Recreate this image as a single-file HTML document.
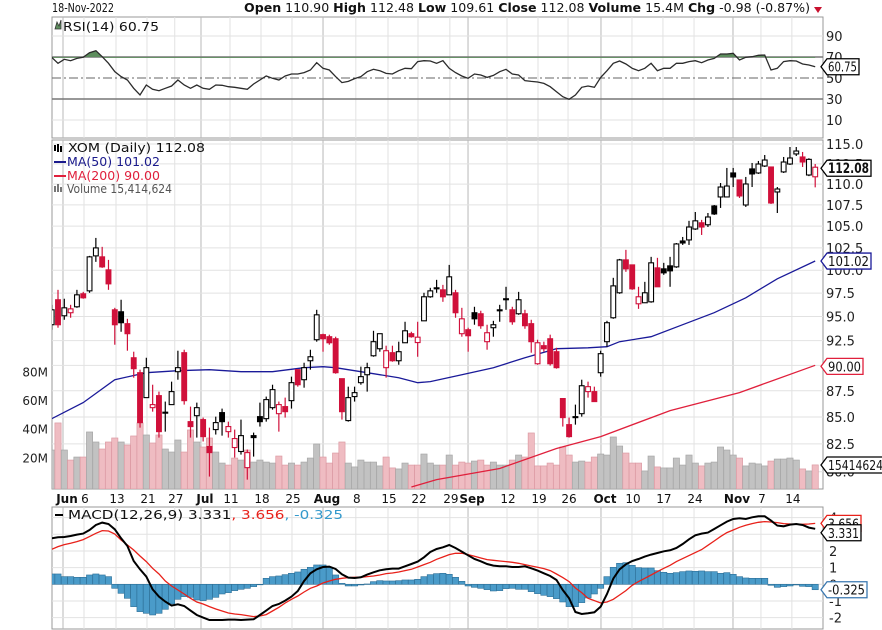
<!DOCTYPE html>
<html><head><meta charset="utf-8"><title>XOM Daily Chart</title>
<style>
html,body{margin:0;padding:0;background:#fff;}
svg{display:block;font-family:"DejaVu Sans","Liberation Sans",Arial,sans-serif;}
</style></head>
<body>
<svg id="chart" width="882" height="630" viewBox="0 0 882 630" xmlns="http://www.w3.org/2000/svg">
<defs>
<clipPath id="clipMain"><rect x="52" y="140" width="771" height="349"/></clipPath>
<clipPath id="clipRsi"><rect x="52" y="17" width="771" height="121"/></clipPath>
<clipPath id="clipRsiTop"><rect x="52" y="17" width="771" height="40.9"/></clipPath>
<clipPath id="clipMacd"><rect x="52" y="507" width="771" height="122"/></clipPath>
</defs>
<rect x="0" y="0" width="882" height="630" fill="#fff"/>
<text x="52" y="12" font-size="12" fill="#111" textLength="62" lengthAdjust="spacingAndGlyphs">18-Nov-2022</text>
<text x="244" y="12" font-size="12" fill="#111" textLength="566" lengthAdjust="spacingAndGlyphs"><tspan font-weight="bold">Open</tspan> 110.90 <tspan font-weight="bold">High</tspan> 112.48 <tspan font-weight="bold">Low</tspan> 109.61 <tspan font-weight="bold">Close</tspan> 112.08 <tspan font-weight="bold">Volume</tspan> 15.4M <tspan font-weight="bold">Chg</tspan> -0.98 (-0.87%)</text>
<polygon points="814,7 822,7 818,13" fill="#c8102e"/>
<rect x="52" y="17" width="771" height="121" fill="none" stroke="#999"/>
<rect x="52" y="140" width="771" height="349" fill="none" stroke="#999"/>
<rect x="52" y="507" width="771" height="122" fill="none" stroke="#999"/>
<g id="gridLayer"></g>
<g id="rsiLayer"></g>
<g id="mainLayer" clip-path="url(#clipMain)"></g>
<g id="macdLayer" clip-path="url(#clipMacd)"></g>
<g id="axisLayer"></g>
<g>
<path d="M55,29 L57,22 L59,26 L61,20 L61,29 Z" fill="#5d8d5d" stroke="#333" stroke-width="0.8"/>
<text x="63" y="31" font-size="12" fill="#111" textLength="96" lengthAdjust="spacingAndGlyphs">RSI(14) 60.75</text>
</g>
<g>
<g><rect x="54" y="145" width="2" height="6" fill="#000"/><rect x="57" y="144" width="2" height="8" fill="#000"/><rect x="60" y="146" width="2" height="6" fill="#000"/></g>
<text x="68" y="152" font-size="12" fill="#111" textLength="137" lengthAdjust="spacingAndGlyphs">XOM (Daily) 112.08</text>
<line x1="54" y1="162" x2="66" y2="162" stroke="#1a1a8c" stroke-width="2"/>
<text x="67" y="166" font-size="12" fill="#1a1a8c" textLength="93" lengthAdjust="spacingAndGlyphs">MA(50) 101.02</text>
<line x1="54" y1="176" x2="66" y2="176" stroke="#e0203c" stroke-width="2"/>
<text x="67" y="180" font-size="12" fill="#e0203c" textLength="93" lengthAdjust="spacingAndGlyphs">MA(200) 90.00</text>
<g><rect x="54" y="186" width="2" height="6" fill="#777"/><rect x="57" y="184" width="2" height="8" fill="#777"/><rect x="60" y="187" width="2" height="5" fill="#777"/></g>
<text x="67" y="193" font-size="12" fill="#555" textLength="105" lengthAdjust="spacingAndGlyphs">Volume 15,414,624</text>
</g>
<g>
<line x1="55" y1="515" x2="63" y2="515" stroke="#000" stroke-width="2"/>
<text x="68" y="519" font-size="12" fill="#111" textLength="275" lengthAdjust="spacingAndGlyphs">MACD(12,26,9) 3.331<tspan fill="#e8211a">, 3.656</tspan><tspan fill="#3399cc">, -0.325</tspan></text>
</g>
</svg>
<script>
// ---------- data ----------
const opens = [94.14,96.78,95.08,95.40,96.03,97.42,97.74,101.60,101.49,100.04,
95.71,95.50,94.25,90.76,89.27,86.84,85.88,87.03,85.41,86.17,
89.37,91.27,84.56,85.12,84.75,82.26,83.82,85.41,83.63,82.17,
81.81,80.36,83.26,85.03,84.84,85.88,85.31,85.98,86.55,89.57,
88.58,90.46,92.59,93.11,92.90,92.69,88.68,84.66,86.94,88.29,
89.07,90.96,91.67,89.77,91.27,90.46,92.28,93.21,92.30,94.55,
97.10,97.96,97.85,97.31,97.53,93.21,93.62,95.40,95.29,92.39,
93.83,95.61,96.78,95.71,95.29,95.29,94.25,90.16,91.98,92.69,
91.37,86.75,84.28,84.94,85.31,87.42,87.42,89.27,92.39,94.87,
97.53,101.15,100.59,96.35,96.46,96.56,100.26,100.15,100.48,100.37,
103.29,103.41,104.67,105.39,105.16,107.37,108.45,108.45,111.37,110.51,
107.49,111.87,111.37,112.23,112.11,109.05,111.50,112.48,113.74,113.36,
111.12,110.90];
const highs = [96.24,97.85,96.89,96.24,97.85,97.63,101.60,103.64,102.62,101.15,
95.92,96.78,94.76,91.37,89.57,90.76,88.09,87.42,86.46,88.39,
91.47,91.57,85.98,86.36,84.94,84.00,85.03,85.79,84.56,83.82,
84.75,81.99,83.54,86.36,86.94,88.09,86.46,86.84,88.88,89.57,
90.26,91.57,95.71,93.21,93.11,92.90,88.68,87.90,87.90,89.87,
90.26,93.51,93.21,91.98,91.98,92.39,94.45,93.41,94.45,97.53,
98.07,98.94,98.39,100.59,97.85,95.92,93.83,96.03,95.61,94.14,
94.55,96.24,98.18,96.03,97.63,95.71,94.66,92.59,92.39,93.11,
91.77,86.75,84.94,86.17,88.58,88.39,87.90,91.47,94.55,99.16,
101.26,102.28,100.59,98.18,98.72,101.49,101.38,100.82,101.49,103.06,
103.75,105.62,106.66,105.73,106.54,107.49,110.14,111.99,111.99,110.51,
110.88,112.61,112.86,113.61,112.11,109.65,113.36,114.62,114.62,113.99,
113.20,112.48];
const lows = [93.62,93.83,94.66,94.87,95.92,96.89,97.53,100.93,100.26,97.85,
92.08,93.41,91.47,88.78,84.00,86.84,85.50,83.08,83.63,86.17,
88.58,86.17,83.08,83.08,82.72,79.57,83.36,83.26,83.08,81.26,
81.53,79.30,81.35,84.10,84.56,85.69,83.63,84.94,85.79,87.90,
87.80,89.57,92.39,91.37,92.08,89.17,84.75,84.56,86.46,88.09,
87.42,90.86,91.37,88.78,90.36,90.06,92.28,92.80,90.86,94.55,
96.99,97.53,96.56,97.31,94.87,92.90,91.37,94.14,93.72,91.57,
92.90,94.45,95.71,94.14,95.18,93.72,91.27,90.06,91.37,89.97,
89.67,84.10,83.08,84.28,85.03,86.84,86.46,88.88,91.88,94.76,
97.42,99.82,97.85,95.81,96.46,96.46,98.18,99.49,98.18,100.26,
102.84,102.84,104.56,103.98,104.90,106.31,107.14,108.45,109.65,108.33,
107.26,109.65,111.25,112.11,107.61,106.54,111.37,112.36,113.48,112.11,
110.98,109.61];
const closes = [95.71,94.14,95.92,95.81,97.31,96.99,101.49,102.50,100.37,98.50,
94.14,94.35,93.21,89.67,84.47,89.77,86.17,83.63,85.45,87.42,
89.77,86.55,84.10,85.88,83.17,81.71,84.47,84.56,84.10,82.99,
83.26,81.71,83.08,84.56,86.65,87.61,86.17,85.50,88.29,88.09,
89.77,90.86,95.18,92.69,92.28,89.27,85.50,86.84,87.32,88.88,
89.77,92.39,93.21,91.47,90.46,91.37,93.51,92.90,92.85,97.10,
97.74,98.07,97.10,99.27,95.40,94.76,93.00,94.76,94.04,93.31,
94.14,95.71,96.89,94.45,96.78,94.04,92.39,92.28,91.67,90.16,
89.77,84.94,83.17,85.03,87.99,87.90,86.46,91.17,94.35,98.28,
101.15,100.15,97.96,97.10,97.53,100.82,98.18,99.71,99.93,102.95,
103.06,104.90,105.62,104.90,106.07,106.43,109.65,109.77,110.88,108.57,
110.02,111.25,112.48,112.98,107.73,109.41,112.73,113.23,114.11,112.73,
113.06,112.08];
const volumesM = [25.8,44.7,25.8,18.8,20.9,20.9,38.4,31.4,26.5,31.4,
34.2,31.4,29.3,35.6,44.7,36.3,30.7,36.3,26.5,24.4,
32.8,24.4,39.8,31.4,27.9,34.2,24.4,16.7,15.3,20.2,
18.8,25.8,17.4,18.8,17.4,16.7,21.6,15.3,16.7,15.3,
17.4,20.2,30.0,20.9,16.7,23.7,31.4,16.7,14.0,18.8,
17.4,17.4,14.7,20.9,13.3,12.6,16.7,15.3,15.3,23.0,
16.7,15.3,15.3,22.3,15.3,17.4,16.7,18.1,18.8,15.3,
17.4,15.3,15.3,18.8,22.3,20.9,37.7,14.7,14.7,16.7,
15.3,27.9,22.3,17.4,18.1,17.4,20.9,23.0,22.3,34.9,
28.6,23.7,16.7,16.7,11.2,21.6,14.0,13.3,13.3,20.2,
15.3,22.3,16.7,14.7,16.7,17.4,27.9,25.8,22.3,20.2,
14.7,16.7,16.1,14.7,18.1,19.5,19.5,20.2,18.8,12.6,
11.2,15.41];
const ma50Days = [0,5,10,15,20,25,30,35,40,43,45,50,55,58,60,65,70,75,80,85,88,90,95,100,105,110,115,121];
const ma50Vals = [84.84,86.36,88.58,89.27,89.47,89.57,89.37,89.37,89.77,89.87,89.77,89.27,88.78,88.29,88.39,89.07,89.77,90.76,91.67,91.77,91.88,92.39,92.90,94.14,95.40,96.99,99.05,101.02];
const ma200Days = [57,61,71,80,87,98,109,121];
const ma200Vals = [78.66,79.30,80.28,82.08,83.17,85.60,87.32,90.00];
const rsiVals = [69.7,64.0,67.8,66.5,68.7,69.7,74.1,76.0,70.3,64.0,
56.0,51.3,48.1,40.2,33.8,43.3,39.2,37.9,40.2,42.4,
48.1,43.3,40.2,43.3,40.2,39.2,43.3,43.0,41.7,41.1,
40.2,39.2,44.3,48.1,51.9,49.7,48.1,51.9,53.8,53.8,
55.1,57.6,64.6,59.2,57.6,51.3,45.6,46.8,49.4,51.3,
56.0,58.3,57.0,54.4,53.8,57.0,59.2,58.9,65.6,66.5,
66.2,64.0,66.5,59.2,55.1,51.9,49.7,53.8,52.9,50.6,
52.5,56.0,58.3,53.8,52.9,47.5,46.8,46.2,44.9,41.7,
37.0,32.2,29.7,33.8,41.1,42.4,41.1,50.6,57.0,64.0,
66.2,63.3,59.2,57.0,59.2,64.0,57.0,59.2,59.2,64.0,
64.0,65.6,66.5,64.6,67.1,68.7,72.9,72.9,73.5,67.1,
69.7,70.3,71.6,71.9,57.6,59.2,65.6,66.5,66.2,63.3,
62.4,60.75];
const macdVals = [2.76,2.82,2.84,2.90,2.98,3.04,3.26,3.56,3.70,3.62,
3.30,2.76,2.30,1.40,0.90,0.46,-0.30,-0.74,-1.04,-1.28,
-1.20,-1.30,-1.58,-1.84,-2.00,-2.14,-2.14,-2.14,-2.12,-2.12,
-2.14,-2.12,-2.10,-1.84,-1.58,-1.30,-1.18,-0.98,-0.74,-0.40,
0.20,0.66,0.90,1.04,1.06,0.92,0.60,0.40,0.38,0.42,
0.58,0.72,0.84,0.90,0.94,0.94,1.08,1.22,1.36,1.62,
1.94,2.12,2.22,2.36,2.18,1.96,1.74,1.52,1.38,1.22,
1.12,1.08,1.08,1.04,1.04,1.08,0.96,0.82,0.66,0.50,
0.26,-0.34,-0.84,-1.66,-1.78,-1.74,-1.68,-1.34,-0.58,0.34,
0.90,1.20,1.40,1.52,1.66,1.78,1.88,1.98,2.04,2.18,
2.42,2.70,2.94,3.04,3.10,3.32,3.54,3.76,3.92,3.96,
3.92,4.02,4.08,4.08,3.82,3.52,3.48,3.58,3.62,3.56,
3.40,3.331];
const signalVals = [2.10,2.26,2.38,2.46,2.56,2.68,2.86,3.06,3.22,3.20,
3.02,2.66,2.36,2.06,1.70,1.36,0.96,0.62,0.20,-0.10,
-0.34,-0.58,-0.84,-1.06,-1.18,-1.34,-1.48,-1.60,-1.72,-1.78,
-1.82,-1.88,-1.94,-1.90,-1.82,-1.60,-1.38,-1.12,-0.90,-0.70,
-0.46,-0.24,-0.10,0.08,0.20,0.30,0.36,0.40,0.42,0.42,
0.46,0.50,0.56,0.64,0.68,0.74,0.82,0.90,1.04,1.18,
1.32,1.50,1.64,1.78,1.86,1.86,1.78,1.68,1.58,1.48,
1.44,1.40,1.36,1.32,1.26,1.18,1.10,1.02,0.94,0.82,
0.62,0.40,0.16,-0.22,-0.50,-0.84,-0.98,-1.12,-1.06,-0.90,
-0.64,-0.38,-0.06,0.16,0.36,0.56,0.76,0.96,1.14,1.36,
1.54,1.72,1.90,2.08,2.34,2.60,2.86,3.10,3.26,3.42,
3.54,3.64,3.72,3.76,3.74,3.70,3.64,3.62,3.60,3.60,
3.62,3.656];
const histVals = [0.62,0.62,0.46,0.46,0.42,0.42,0.56,0.62,0.56,0.46,
-0.24,-0.54,-0.84,-1.34,-1.64,-1.74,-1.84,-1.74,-1.50,-1.18,
-0.90,-0.74,-0.78,-0.94,-0.98,-0.90,-0.78,-0.58,-0.50,-0.38,
-0.30,-0.24,-0.14,0.00,0.36,0.46,0.50,0.58,0.66,0.74,
0.90,1.02,1.16,1.16,1.02,0.56,0.06,-0.10,-0.10,-0.04,
0.02,0.16,0.22,0.20,0.20,0.22,0.26,0.26,0.30,0.46,
0.58,0.64,0.66,0.60,0.42,0.18,-0.10,-0.18,-0.24,-0.32,
-0.40,-0.38,-0.26,-0.24,-0.30,-0.30,-0.44,-0.56,-0.66,-0.74,
-0.86,-1.06,-1.34,-1.34,-1.10,-0.82,-0.58,-0.24,0.46,1.02,
1.26,1.30,1.14,1.00,0.98,0.98,0.82,0.72,0.66,0.70,
0.76,0.80,0.78,0.80,0.76,0.76,0.66,0.70,0.60,0.46,
0.38,0.36,0.36,0.36,-0.06,-0.18,-0.14,-0.10,-0.04,-0.12,
-0.14,-0.325];
const priceTicks = [115.0,112.5,110.0,107.5,105.0,102.5,100.0,97.5,95.0,92.5,90.0,87.5,85.0,82.5,80.0];
const priceTickLabels = ["115.0","112.5","110.0","107.5","105.0","102.5","100.0","97.5","95.0","92.5","90.0","87.5","85.0","82.5","80.0"];
const volTicks = [80,60,40,20];
const volTickLabels = ["80M","60M","40M","20M"];
const rsiTicks = [90,70,50,30,10];
const macdTicks = [4,3,2,1,0,-1,-2];
const dateTickDays = [1.79,5.12,10.19,15.1,19.5,23.66,28.26,33.17,38.08,43.0,48.2,53.3,58.05,63.1,65.98,72.16,77.07,81.83,87.05,91.96,96.87,101.8,107.97,112.4,117.3];
const dateTickLabels = ["Jun","6","13","21","27","Jul","11","18","25","Aug","8","15","22","29","Sep","12","19","26","Oct","10","17","24","Nov","7","14"];
const dateTickIsMonth = [1,0,0,0,0,1,0,0,0,1,0,0,0,0,1,0,0,0,1,0,0,0,1,0,0];

// ---------- scales ----------
const NS = 'http://www.w3.org/2000/svg';
function xs(i){ return 58 + (i - 1) * 6.31; }
function yPrice(p){ return 144 + 903 * Math.log(115 / p); }
function yVol(v){ return 487 - v * 1.433; }
function yRsi(r){ return 78 - (r - 50) * 1.05; }
function yMacd(v){ return 584.3 - 16.67 * v; }
function mk(tag, attrs, parent){
  const e = document.createElementNS(NS, tag);
  for (const k in attrs) e.setAttribute(k, attrs[k]);
  parent.appendChild(e);
  return e;
}
const grid = document.getElementById('gridLayer');
const rsiL = document.getElementById('rsiLayer');
const mainL = document.getElementById('mainLayer');
const macdL = document.getElementById('macdLayer');
const axisL = document.getElementById('axisLayer');

// ---------- grid ----------
dateTickDays.forEach((d, k) => {
  const x = xs(d);
  const col = dateTickIsMonth[k] ? '#b8b8b8' : '#e2e2e2';
  [[17,138],[140,489],[507,629]].forEach(r => {
    const ln = mk('line', {x1:x, x2:x, y1:r[0], y2:r[1], stroke:col, 'stroke-width':1}, grid);
    
    
  });
  const t = mk('text', {x: x + (dateTickIsMonth[k] ? 4 : 1), y: 503, 'font-size': 12, 'text-anchor':'middle', fill:'#111', 'font-weight': dateTickIsMonth[k] ? 'bold' : 'normal'}, axisL);
  t.textContent = dateTickLabels[k];
  
  
});
priceTicks.forEach((p, k) => {
  const y = yPrice(p);
  if (y > 140 && y < 489) {
    const ln = mk('line', {x1:52, x2:823, y1:y, y2:y, stroke:'#e2e2e2'}, grid);
    
    
  }
  const t = mk('text', {x:826, y:y + 5, 'font-size':13, fill:'#222'}, axisL);
  t.textContent = priceTickLabels[k];
  
  
});
volTicks.forEach((v, k) => {
  const t = mk('text', {x:48, y:yVol(v) + 4, 'font-size':12, 'text-anchor':'end', fill:'#222'}, axisL);
  t.textContent = volTickLabels[k];
  
  
});
rsiTicks.forEach(r => {
  const y = yRsi(r);
  let st = {x1:52, x2:823, y1:y, y2:y, stroke:'#e2e2e2'};
  if (r === 70 || r === 30) st = {x1:52, x2:823, y1:y, y2:y, stroke:'#777', 'stroke-width':1.4};
  if (r === 50) st = {x1:52, x2:823, y1:y, y2:y, stroke:'#666', 'stroke-dasharray':'9,3,2,3'};
  const ln = mk('line', st, grid);
  
  
  const t = mk('text', {x:826, y:y + 5, 'font-size':13, fill:'#222'}, axisL);
  t.textContent = String(r);
  
  
});
macdTicks.forEach(v => {
  const y = yMacd(v);
  const ln = mk('line', {x1:52, x2:823, y1:y, y2:y, stroke:'#e2e2e2'}, grid);
  
  
  const t = mk('text', {x:829, y:y + 5, 'font-size':13, fill:'#222'}, axisL);
  t.textContent = String(v);
  
  
});

// ---------- RSI ----------
const rsiG = mk('g', {'clip-path':'url(#clipRsi)'}, rsiL);
const rsiPts = rsiVals.map((r, i) => xs(i).toFixed(1) + ',' + yRsi(r).toFixed(1));
const y70 = yRsi(70);
const ob = mk('polygon', {points: xs(0).toFixed(1) + ',' + y70 + ' ' + rsiPts.join(' ') + ' ' + xs(rsiVals.length - 1).toFixed(1) + ',' + y70, fill:'#5d8d5d', 'clip-path':'url(#clipRsiTop)'}, rsiG);


const rl = mk('polyline', {points: rsiPts.join(' '), fill:'none', stroke:'#2b2b2b', 'stroke-width':1.3}, rsiG);



// ---------- volume ----------
volumesM.forEach((v, i) => {
  const down = i > 0 && closes[i] < closes[i - 1];
  const b = mk('rect', {x: xs(i) - 3.1, y: yVol(v), width: 6.2, height: 487 - yVol(v) + 2, fill: down ? '#efbcc2' : '#c2c2c2', stroke: down ? '#dc9aa3' : '#a6a6a6', 'stroke-width':0.7}, mainL);
  
  
});

// ---------- moving averages ----------
const ma200 = mk('polyline', {points: ma200Days.map((d, k) => xs(d).toFixed(1) + ',' + yPrice(ma200Vals[k]).toFixed(1)).join(' '), fill:'none', stroke:'#e0203c', 'stroke-width':1.3}, mainL);


const ma50 = mk('polyline', {points: ma50Days.map((d, k) => xs(d).toFixed(1) + ',' + yPrice(ma50Vals[k]).toFixed(1)).join(' '), fill:'none', stroke:'#1a1a99', 'stroke-width':1.3}, mainL);



// ---------- candles ----------
closes.forEach((c, i) => {
  const o = opens[i], h = highs[i], l = lows[i];
  const down = i > 0 && c < closes[i - 1];
  const col = down ? '#d0103a' : '#000';
  const x = xs(i);
  const g = mk('g', {}, mainL);
  
  
  mk('line', {x1:x, x2:x, y1:yPrice(h), y2:yPrice(l), stroke:col, 'stroke-width':1.2}, g);
  const yt = Math.min(yPrice(o), yPrice(c)), yb = Math.max(yPrice(o), yPrice(c));
  mk('rect', {x:x - 2.4, y:yt, width:4.8, height:Math.max(yb - yt, 1), fill: c < o ? col : '#fff', stroke:col, 'stroke-width':1.1}, g);
});

// ---------- MACD ----------
histVals.forEach((v, i) => {
  const y0 = yMacd(0), y1 = yMacd(v);
  const b = mk('rect', {x: xs(i) - 3.1, y: Math.min(y0, y1), width: 6.2, height: Math.max(Math.abs(y1 - y0), 0.5), fill:'#4a9bc9', stroke:'#2d6f97', 'stroke-width':0.6}, macdL);
  
  
});
const sig = mk('polyline', {points: signalVals.map((v, i) => xs(i).toFixed(1) + ',' + yMacd(v).toFixed(1)).join(' '), fill:'none', stroke:'#e8211a', 'stroke-width':1.3}, macdL);


const mac = mk('polyline', {points: macdVals.map((v, i) => xs(i).toFixed(1) + ',' + yMacd(v).toFixed(1)).join(' '), fill:'none', stroke:'#000', 'stroke-width':2}, macdL);



// ---------- value tags ----------
function tag(yc, w, text, col, bold){
  const x0 = 821, x1 = x0 + w;
  const g = mk('g', {}, axisL);
  mk('polygon', {points: x0 + ',' + yc + ' ' + (x0 + 6) + ',' + (yc - 8) + ' ' + x1 + ',' + (yc - 8) + ' ' + x1 + ',' + (yc + 8) + ' ' + (x0 + 6) + ',' + (yc + 8), fill:'#fff', stroke:col, 'stroke-width':1.3}, g);
  const t = mk('text', {x: x0 + 7, y: yc + 5, 'font-size': bold ? 14 : 13, 'font-weight': bold ? 'bold' : 'normal', fill:'#111', textLength: w - 9, lengthAdjust:'spacingAndGlyphs'}, g);
  t.textContent = text;
  return g;
}
const t1 = tag(yPrice(closes[closes.length - 1]) + 1, 50, '112.08', '#000', true);


const t2 = tag(yPrice(ma50Vals[ma50Vals.length - 1]), 50, '101.02', '#1a1a99', false);


const t3 = tag(yPrice(ma200Vals[ma200Vals.length - 1]) + 1, 42, '90.00', '#e0203c', false);


const t4 = tag(465, 64, '15414624', '#000', false);


const t5 = tag(yRsi(rsiVals[rsiVals.length - 1]), 38, '60.75', '#000', false);


const t6 = tag(yMacd(signalVals[signalVals.length - 1]), 40, '3.656', '#e8211a', false);


const t7 = tag(yMacd(macdVals[macdVals.length - 1]) + 4, 40, '3.331', '#000', false);


const t8 = tag(yMacd(histVals[histVals.length - 1]), 46, '-0.325', '#3a78b0', false);


</script>
</body></html>
